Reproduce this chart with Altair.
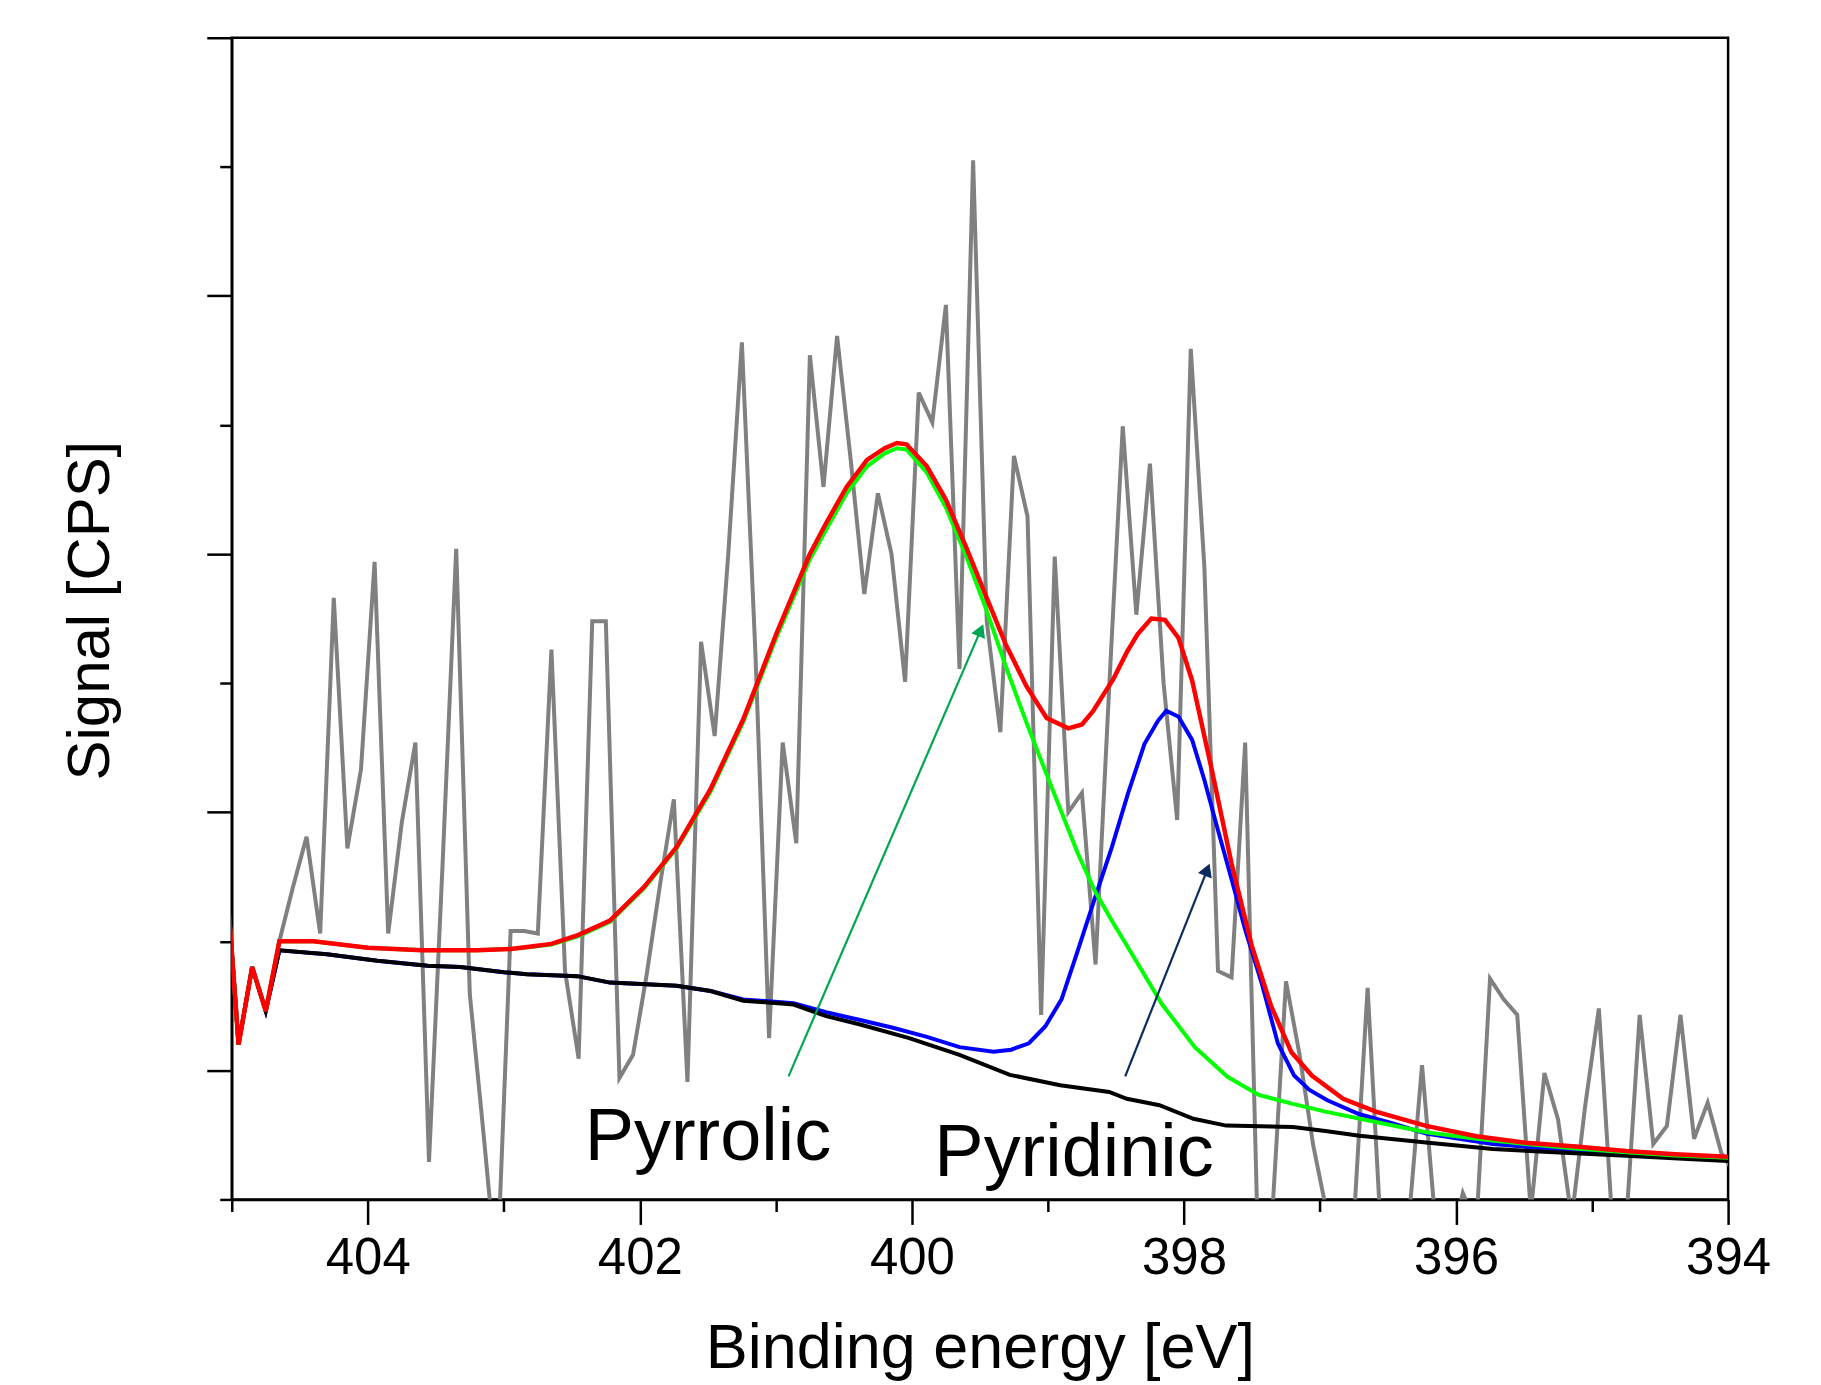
import math
import altair as alt
import pandas as pd

# ---------------- data ----------------
# raw spectrum: energies 405.05 ... 393.95 eV, 0.1 eV step
raw_energy = [round(405.05 - 0.1 * i, 2) for i in range(112)]
raw_signal = [265, 120, 180, 146, 200, 242, 281, 206, 466, 272, 333,
              494, 206, 292, 354, 29, 260, 504, 159, 52, -60,
              208, 208, 206, 426, 177, 109, 448, 448, 94, 112,
              174, 245, 310, 91, 432, 359, 500, 664, 422, 125,
              354, 276, 654, 552, 669, 573, 469, 547, 500, 401,
              625, 602, 693, 411, 805, 448, 362, 576, 529, 143,
              498, 300, 315, 182, 396, 599, 453, 570, 400, 294,
              659, 490, 177, 172, 354, -60, -10, 169, 112, 42,
              -10, -40, -15, 164, -30, -50, -20, 104, -20, -40,
              5, -20, 171, 155, 143, -10, 98, 62, -15, 73,
              148, -20, -20, 143, 43, 57, 143, 47, 75, 36, 20]

envelope_energy = [405.05, 404.95, 404.85, 404.75, 404.65, 404.4, 404.0, 403.6, 403.2, 402.95,
                   402.8, 402.65, 402.45, 402.22, 401.97, 401.73, 401.48, 401.24, 400.99, 400.75,
                   400.63, 400.48, 400.33, 400.2, 400.11, 400.04, 399.89, 399.75, 399.6, 399.45,
                   399.31, 399.16, 399.01, 398.85, 398.75, 398.67, 398.52, 398.42, 398.34, 398.24,
                   398.14, 398.04, 397.94, 397.8, 397.65, 397.5, 397.36, 397.21, 397.06, 396.83,
                   396.59, 396.22, 395.85, 395.49, 395.12, 394.75, 394.39, 394.0]
envelope_signal = [265, 120, 180, 146, 200, 200, 195, 193, 193, 194,
                   196, 198, 205, 216, 242, 273, 318, 372, 440, 500,
                   524, 552, 573, 582, 586, 585, 568, 542, 505, 466,
                   430, 398, 373, 365, 368, 378, 403, 424, 438, 450,
                   449, 435, 402, 335, 260, 196, 150, 114, 96, 78,
                   68, 57, 49, 44, 41, 37.5, 35, 33]

pyrrolic_energy = [405.05, 404.95, 404.85, 404.75, 404.65, 404.4, 404.0, 403.6, 403.2, 402.95,
                   402.8, 402.65, 402.45, 402.22, 401.97, 401.73, 401.48, 401.24, 400.99, 400.75,
                   400.63, 400.48, 400.33, 400.2, 400.11, 400.04, 399.89, 399.75, 399.6, 399.45,
                   399.31, 399.16, 399.02, 398.9, 398.78, 398.65, 398.53, 398.41, 398.16, 397.92,
                   397.68, 397.45, 397.2, 396.96, 396.59, 396.22, 395.85, 395.49, 395.12, 394.75,
                   394.39, 394.0]
pyrrolic_signal = [265, 120, 180, 146, 200, 200, 195, 193, 193, 194,
                   195.5, 197.5, 204, 215, 241, 272, 316, 370, 437, 496,
                   519, 547, 568, 578, 582, 581, 563, 536, 498, 456,
                   413, 370, 332, 300, 268, 238, 216, 195, 151, 118,
                   95, 81, 74, 68, 60, 52, 47, 43, 39.5, 36.5,
                   34, 32.3]

pyridinic_energy = [405.05, 404.95, 404.85, 404.75, 404.65, 404.3, 403.93, 403.56, 403.32, 403.0,
                    402.83, 402.46, 402.22, 401.73, 401.48, 401.24, 400.87, 400.63, 400.38, 400.14,
                    399.89, 399.65, 399.4, 399.27, 399.14, 399.02, 398.9, 398.78, 398.65, 398.53,
                    398.41, 398.29, 398.19, 398.13, 398.04, 397.94, 397.85, 397.75, 397.65, 397.55,
                    397.43, 397.31, 397.19, 397.08, 396.95, 396.71, 396.47, 396.22, 395.73, 395.24,
                    394.75, 394.26, 394.0]
pyridinic_signal = [265, 120, 180, 146, 193, 190, 185, 181, 180, 176,
                    174.5, 173, 168, 165.6, 161.5, 155, 152, 145, 139, 133,
                    126, 118, 114.5, 116, 121, 134, 155, 193, 235, 273,
                    315, 353, 371, 378.6, 374, 356, 325, 286, 248, 209,
                    168, 121, 96, 85, 77, 66, 59, 51, 43, 38.5,
                    35.5, 33, 31.5]

background_energy = [405.05, 404.95, 404.85, 404.75, 404.65, 404.3, 403.93, 403.56, 403.32, 403.0,
                     402.83, 402.46, 402.22, 401.73, 401.48, 401.24, 400.87, 400.63, 400.38, 400.02,
                     399.65, 399.28, 398.91, 398.55, 398.42, 398.18, 397.93, 397.69, 397.2, 396.96,
                     396.71, 396.22, 395.73, 395.24, 394.75, 394.26, 394.0]
background_signal = [265, 120, 180, 146, 193, 190, 185, 181, 180, 176,
                     174.5, 173, 168, 165.6, 161.5, 154, 151, 142, 135.5, 125,
                     112, 96.5, 88.5, 83.3, 78, 73, 62.5, 57.2, 56.2, 53,
                     49.4, 44.2, 39, 36.4, 33.8, 31.2, 29.7]

x_ticks = list(range(394, 406))
y_ticks = list(range(0, 901, 100))

label_text = ["Pyrrolic", "Pyridinic"]
label_energy = [402.405, 399.835]
label_signal = [30.7, 18.3]

arrow_names = ["Pyrrolic", "Pyridinic"]
arrow_tail_energy = [400.907, 398.432]
arrow_tail_signal = [95.3, 95.3]
arrow_head_energy = [399.474, 397.810]
arrow_head_signal = [446.0, 260.4]
arrow_colors = ["#00A651", "#0B2A5E"]

# ---------------- layout ----------------
W, H = 1498, 1163
FONT = "Liberation Sans"

xscale = alt.Scale(domain=[394, 405], reverse=True, nice=False, zero=False)
yscale = alt.Scale(domain=[0, 900], nice=False, zero=False)

x_axis = alt.Axis(
    values=x_ticks, format="d",
    labelExpr="datum.value % 2 == 0 && datum.value < 405 ? datum.label : ''",
    tickSize={"condition": {"test": "datum.value % 2 == 0", "value": 25}, "value": 12},
    tickWidth=2.5, tickColor="black", domainColor="black", domainWidth=2.5,
    labelFont=FONT, labelFontSize=51, labelColor="black", labelFlush=False,
    labelOverlap=False, labelPadding=9, labelBaseline="top",
    title="Binding energy [eV]", titleFont=FONT, titleFontSize=63,
    titleFontWeight="normal", titleColor="black",
    titleX=W / 2, titleY=168, titleBaseline="alphabetic", titleAlign="center",
    grid=False,
)
y_axis = alt.Axis(
    values=y_ticks, labels=False,
    tickSize={"condition": {"test": "datum.value % 200 == 100", "value": 25}, "value": 12},
    tickWidth=2.5, tickColor="black", domainColor="black", domainWidth=2.5,
    title="Signal [CPS]", titleFont=FONT, titleFontSize=60,
    titleFontWeight="normal", titleColor="black", titleAngle=270,
    titleX=-123, titleY=573, titleBaseline="alphabetic", titleAlign="center",
    grid=False,
)


def line_layer(energy, signal, color, width):
    df = pd.DataFrame({"E": energy, "S": signal})
    return alt.Chart(df).mark_line(color=color, strokeWidth=width, clip=True).encode(
        x=alt.X("E:Q", scale=xscale, axis=x_axis),
        y=alt.Y("S:Q", scale=yscale, axis=y_axis),
    )


raw = line_layer(raw_energy, raw_signal, "#808080", 4)
pyr = line_layer(pyridinic_energy, pyridinic_signal, "#0000FF", 4)
bg = line_layer(background_energy, background_signal, "#000000", 4)
pyl = line_layer(pyrrolic_energy, pyrrolic_signal, "#00FF00", 4)
env = line_layer(envelope_energy, envelope_signal, "#FF0000", 4.5)

# arrows
rows_line, rows_head = [], []
for name, e0, s0, e1, s1, c in zip(arrow_names, arrow_tail_energy, arrow_tail_signal,
                                  arrow_head_energy, arrow_head_signal, arrow_colors):
    dx = (e0 - e1) * W / 11.0
    dy = (s1 - s0) * H / 900.0
    ang = math.degrees(math.atan2(dx, dy))
    back = 7.0
    ce = e1 + back * math.sin(math.radians(ang)) / (W / 11.0)
    cs = s1 - back * math.cos(math.radians(ang)) / (H / 900.0)
    rows_line.append({"name": name, "E": e0, "S": s0, "ord": 0, "c": c})
    rows_line.append({"name": name, "E": ce, "S": cs, "ord": 1, "c": c})
    rows_head.append({"name": name, "E": ce, "S": cs, "ang": ang, "c": c})

arrow_lines = alt.Chart(pd.DataFrame(rows_line)).mark_line(strokeWidth=2.2).encode(
    x=alt.X("E:Q", scale=xscale),
    y=alt.Y("S:Q", scale=yscale),
    detail="name:N",
    order="ord:Q",
    color=alt.Color("c:N", scale=None),
)
arrow_heads = alt.Chart(pd.DataFrame(rows_head)).mark_point(
    shape="triangle-up", filled=True, size=220, opacity=1
).encode(
    x=alt.X("E:Q", scale=xscale),
    y=alt.Y("S:Q", scale=yscale),
    angle=alt.Angle("ang:Q", scale=None),
    color=alt.Color("c:N", scale=None),
)

labels = alt.Chart(pd.DataFrame({"t": label_text, "E": label_energy, "S": label_signal})).mark_text(
    font=FONT, fontSize=74, align="left", baseline="alphabetic", color="black"
).encode(
    x=alt.X("E:Q", scale=xscale),
    y=alt.Y("S:Q", scale=yscale),
    text="t:N",
)

chart = alt.layer(raw, pyr, bg, pyl, env, arrow_lines, arrow_heads, labels).properties(
    width=W, height=H,
    autosize=alt.AutoSizeParams(type="none"),
    padding={"left": 224, "top": 29, "right": 85, "bottom": 185},
).configure(font=FONT, background="white").configure_view(stroke="black", strokeWidth=2.5)

chart.save("out.html", embed_options={"renderer": "svg", "actions": False})
